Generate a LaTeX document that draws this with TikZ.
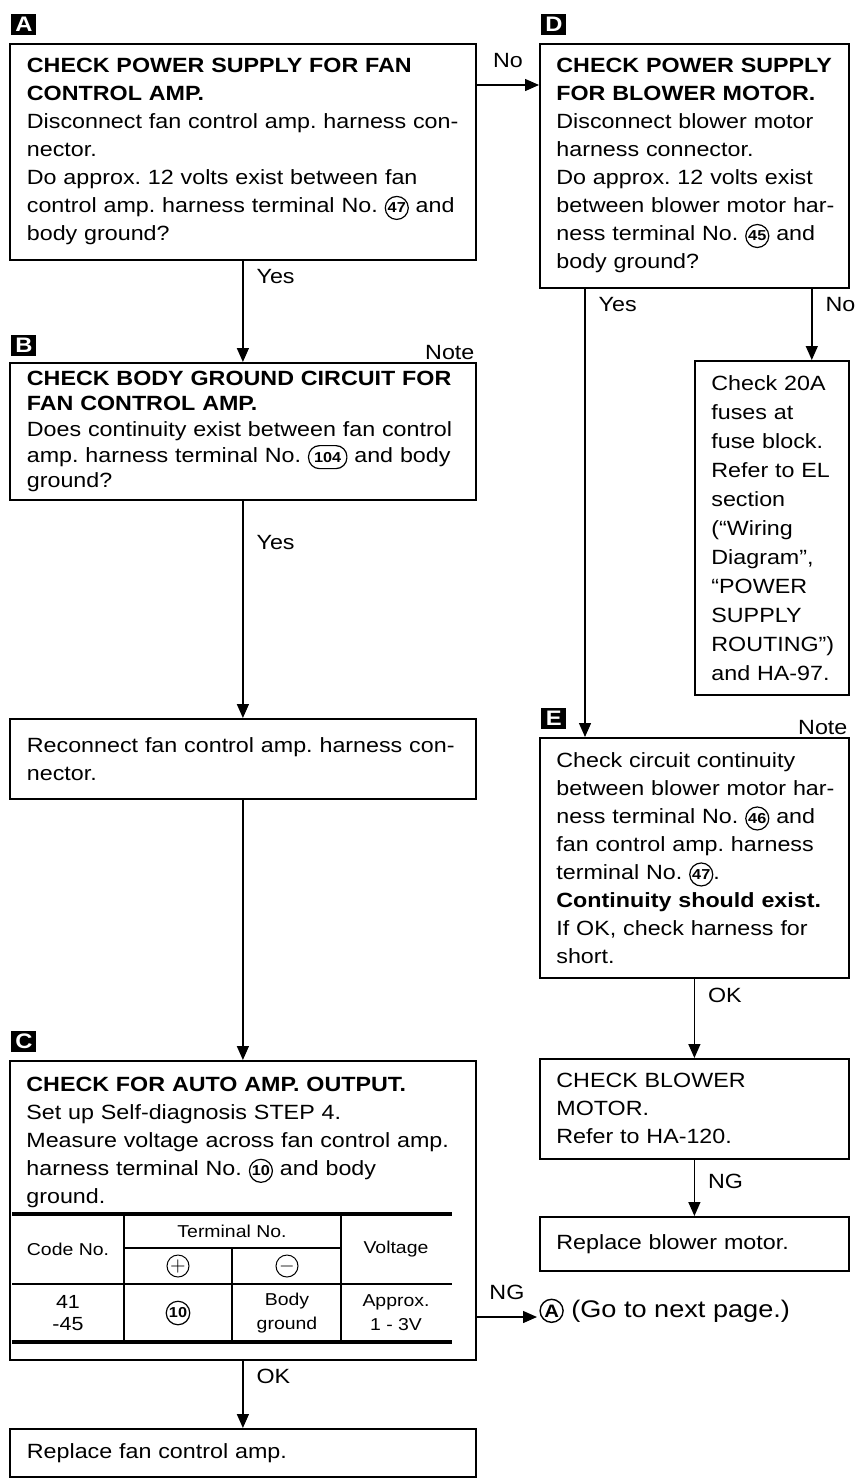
\documentclass[tikz,border=0pt]{standalone}
\usepackage{fontspec}
\setmainfont{Liberation Sans}[FakeStretch=1.13]
\usetikzlibrary{arrows.meta}
\frenchspacing
\newcommand{\boxfont}{\fontsize{10.3}{14}\selectfont}
\newcommand{\cellfont}{\fontsize{8.6}{12}\selectfont}
\newcommand{\tagfont}{\fontsize{10.5}{12}\selectfont\bfseries}
\newcommand{\cnum}[1]{\tikz[baseline=(cn.base)]\node[circle,draw,line width=0.6pt,inner sep=0.3pt,text width={},minimum size=11.5pt,anchor=center,font=\fontsize{7.2}{8}\selectfont\bfseries] (cn) {#1};}
\newcommand{\cnumo}[1]{\tikz[baseline=(cn.base)]\node[rectangle,draw,rounded corners=5.5pt,line width=0.6pt,inner xsep=2.8pt,inner ysep=0.3pt,text width={},minimum size=0pt,minimum height=11.5pt,anchor=center,font=\fontsize{7.2}{8}\selectfont\bfseries] (cn) {#1};}
\newcommand{\cnumb}[1]{\tikz[baseline=(cn.base)]\node[circle,draw,line width=0.7pt,inner sep=0.4pt,text width={},minimum size=11.5pt,anchor=center,font=\fontsize{9}{10}\selectfont\bfseries] (cn) {#1};}

\begin{document}
\begin{tikzpicture}[x=0.5pt,y=-0.5pt,
  box/.style={draw, line width=0.9pt, anchor=north west, align=left, inner xsep=8.5pt, inner ysep=7.3pt, font=\boxfont},
  lcol/.style={box, text width=216pt},
  rcol/.style={box, text width=138pt, inner xsep=8.25pt},
  tag/.style={fill=black, text=white, font=\tagfont, anchor=south west, minimum width=12.5pt, minimum height=10.5pt, inner sep=0pt},
  notelbl/.style={anchor=south east, inner sep=1pt, font=\boxfont},
  flow/.style={line width=0.7pt, -{Triangle[length=7pt,width=6pt]}},
  lbl/.style={anchor=north west, inner sep=0pt, xshift=6.5pt, yshift=-4pt, font=\boxfont},
  cell/.style={font=\cellfont, align=center, inner sep=0pt},
  thickrule/.style={line width=2pt},
  thinrule/.style={line width=0.6pt},
  sign/.style={circle, draw, line width=0.5pt, minimum size=11pt, inner sep=0pt}]
\useasboundingbox (0,0) rectangle (857,1483);

\node[lcol] (a) at (9,43) {{\bfseries CHECK POWER SUPPLY FOR FAN\\CONTROL AMP.}\\\mbox{Disconnect fan control amp. harness con-}\\nector.\\Do approx. 12 volts exist between fan\\\mbox{control amp. harness terminal No. \cnum{47} and}\\body ground?};
\node[rcol] (d) at (539,43) {{\bfseries CHECK POWER SUPPLY\\FOR BLOWER MOTOR.}\\Disconnect blower motor\\harness connector.\\Do approx. 12 volts exist\\\mbox{between blower motor har-}\\\mbox{ness terminal No. \cnum{45} and}\\body ground?};
\node[lcol, font=\fontsize{10.3}{12.8}\selectfont, inner ysep=4pt] (b) at (9,362) {{\bfseries CHECK BODY GROUND CIRCUIT FOR\\FAN CONTROL AMP.}\\\mbox{Does continuity exist between fan control}\\\mbox{amp. harness terminal No. \cnumo{104} and body}\\ground?};
\node[rcol, text width=60.5pt, font=\fontsize{10.3}{14.5}\selectfont] (f) at (694,360) {Check 20A\\fuses at\\fuse block.\\Refer to EL\\section\\(“Wiring\\Diagram”,\\“POWER\\SUPPLY\\ROUTING”)\\and HA-97.};
\node[lcol, minimum height=40pt] (r) at (9,718) {\mbox{Reconnect fan control amp. harness con-}\\nector.};
\node[rcol] (e) at (539,737) {Check circuit continuity\\\mbox{between blower motor har-}\\\mbox{ness terminal No. \cnum{46} and}\\fan control amp. harness\\terminal No. \cnum{47}.\\{\bfseries Continuity should exist.}\\If OK, check harness for\\short.};
\node[draw, line width=0.9pt, anchor=north west, minimum width=233pt, minimum height=149.5pt, inner sep=0pt] (c) at (9,1060) {};
\node[anchor=north west, inner sep=0pt, text width=216pt, align=left, font=\boxfont] (ctext) at ([xshift=8.5pt,yshift=-8.5pt]c.north west) {{\bfseries CHECK FOR AUTO AMP. OUTPUT.}\\Set up Self-diagnosis STEP 4.\\\mbox{Measure voltage across fan control amp.}\\harness terminal No. \cnum{10} and body\\ground.};
\node[rcol] (g) at (539,1058) {CHECK BLOWER\\MOTOR.\\Refer to HA-120.};
\node[rcol, minimum height=27pt] (h) at (539,1216) {Replace blower motor.};
\node[lcol] (z) at (9,1428) {Replace fan control amp.};

\node[tag] (ta) at ([xshift=1pt,yshift=4pt]a.north west) {A};
\node[tag] (tb) at ([xshift=1pt,yshift=3pt]b.north west) {B};
\node[tag] (tc) at ([xshift=1pt,yshift=4pt]c.north west) {C};
\node[tag] (td) at ([xshift=1pt,yshift=4pt]d.north west) {D};
\node[tag] (te) at ([xshift=1pt,yshift=4pt]e.north west) {E};
\node[notelbl] (nb) at (b.north east) {Note};
\node[notelbl] (ne) at (e.north east) {Note};

\draw[flow] ([yshift=-21pt]a.north east) -- ([yshift=-21pt]d.north west) node[midway, above=5pt, font=\boxfont] {No};
\draw[flow] (a.south) -- (b.north) node[lbl, pos=0] {Yes};
\draw[flow] (b.south) -- (r.north) node[lbl, pos=0.12] {Yes};
\draw[flow] (r.south) -- (c.north);
\draw[flow] (c.south) -- (z.north) node[lbl, pos=0] {OK};
\draw[flow] ([xshift=23pt]d.south west) -- ([xshift=23pt]e.north west) node[lbl, pos=0] {Yes};
\draw[flow] ([xshift=-19pt]d.south east) -- ([xshift=-19pt]f.north east) node[lbl, pos=0] {No};
\draw[flow] (e.south) -- (g.north) node[lbl, pos=0] {OK};
\draw[flow] (g.south) -- (h.north) node[lbl, pos=0.1] {NG};
\coordinate (nx) at (537,1317);
\draw[flow] (c.east |- nx) -- (nx) node[midway, above=5pt, font=\boxfont] {NG};
\node[anchor=base west, inner sep=1pt, font=\fontsize{12}{14}\selectfont] (next) at (nx) {\cnumb{A} (Go to next page.)};

\draw[thickrule] (12,1214) -- (452,1214);
\draw[thickrule] (12,1342) -- (452,1342);
\draw[thinrule] (124,1248) -- (341,1248);
\draw[thinrule] (12,1284) -- (452,1284);
\draw[thinrule] (124,1214) -- (124,1342);
\draw[thinrule] (232,1248) -- (232,1342);
\draw[thinrule] (341,1214) -- (341,1342);
\node[cell] (hcode) at (68,1249) {Code No.};
\node[cell] (hterm) at (232,1231) {Terminal No.};
\node[cell] (hvolt) at (396,1249) {Voltage};
\node[sign] (hplus) at (178,1266) {$+$};
\node[sign] (hminus) at (287,1266) {$-$};
\node[cell, font=\fontsize{9.5}{11}\selectfont] (vcode) at (68,1313) {41\\-45};
\node[circle, draw, line width=0.6pt, inner sep=0.5pt, minimum size=11.5pt, font=\fontsize{7.2}{8}\selectfont\bfseries] (vpos) at (178,1313) {10};
\node[cell] (vneg) at (287,1313) {Body\\ground};
\node[cell] (vvolt) at (396,1313) {Approx.\\1 - 3V};
\end{tikzpicture}
\end{document}
